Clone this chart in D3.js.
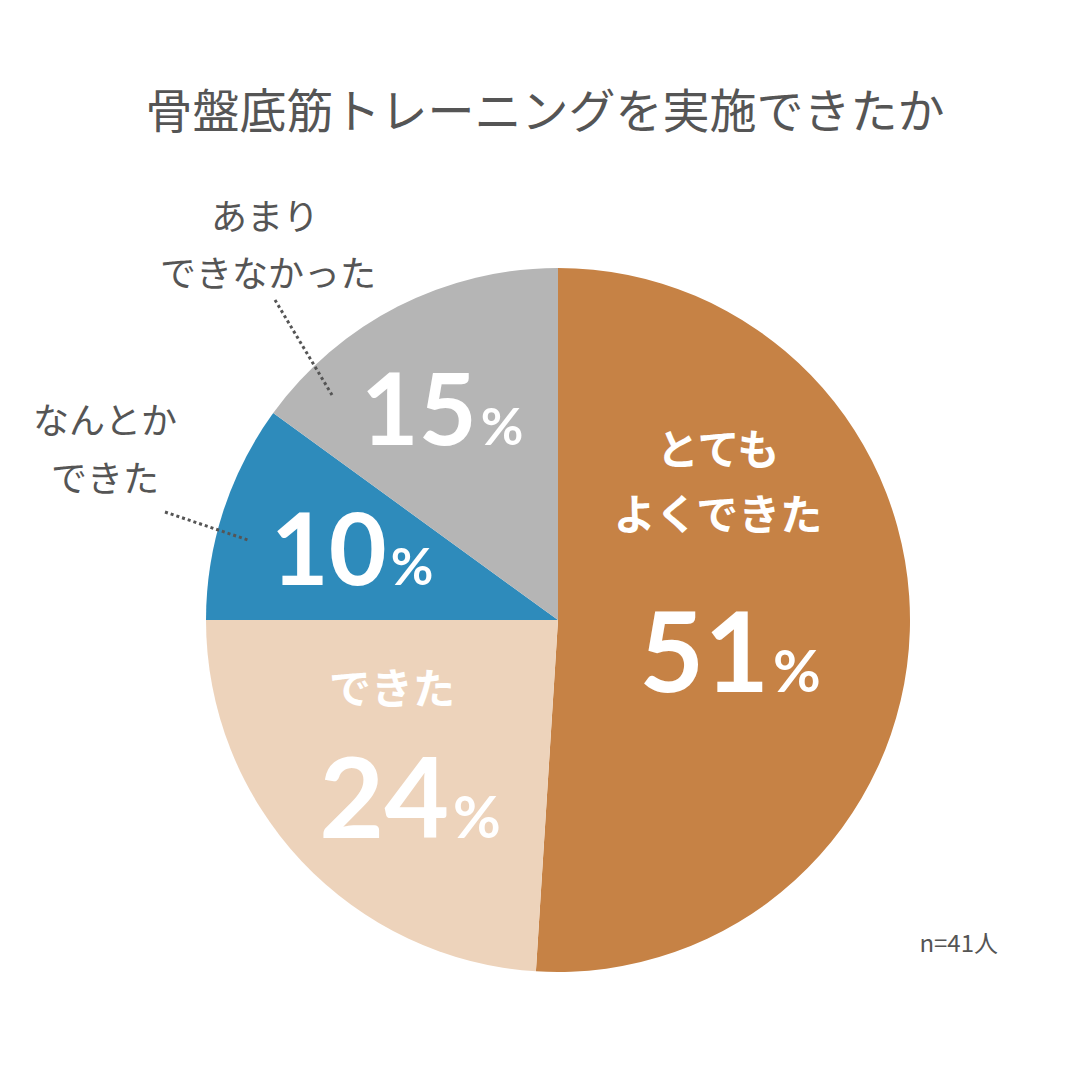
<!DOCTYPE html>
<html><head><meta charset="utf-8">
<script src="https://cdn.jsdelivr.net/npm/d3@7"></script>
<style>body{margin:0;background:#fff}svg{font-family:"Noto Sans CJK JP","Noto Sans",sans-serif}</style>
</head><body>
<svg id="chart" width="1080" height="1080"></svg>
<script>
// data
var categories = ["とてもよくできた", "できた", "なんとかできた", "あまりできなかった"];
var values = [51, 24, 10, 15];
var colors = ["#c68245", "#edd3bb", "#2e8bbb", "#b5b5b5"];

var svg = d3.select("#chart");
var cx = 558, cy = 620, r = 352;

svg.append("text").attr("x", 545).attr("y", 128).attr("text-anchor", "middle")
  .attr("font-size", 47).attr("fill", "#555").text("骨盤底筋トレーニングを実施できたか");

var pie = d3.pie().sort(null).value(function(d){ return d; });
var arc = d3.arc().innerRadius(0).outerRadius(r);
var g = svg.append("g").attr("transform", "translate(" + cx + "," + cy + ")");
g.selectAll("path").data(pie(values)).enter().append("path")
  .attr("d", arc).attr("fill", function(d, i){ return colors[i]; });

// label positions inside slices
var inside = [
  {x: 718, lines: ["とても", "よくできた"], ly: [465, 530], px: 730, py: 692, size: 112},
  {x: 392, lines: ["できた"], ly: [704], px: 410, py: 838, size: 112},
  {x: 0, lines: [], ly: [], px: 352, py: 585, size: 100},
  {x: 0, lines: [], ly: [], px: 442, py: 445, size: 100}
];
inside.forEach(function(p, i){
  p.lines.forEach(function(t, j){
    svg.append("text").attr("x", p.x).attr("y", p.ly[j]).attr("text-anchor", "middle")
      .attr("font-size", 42).attr("font-weight", 700).attr("fill", "#fff").text(t);
  });
  var t = svg.append("text").attr("x", p.px).attr("y", p.py).attr("text-anchor", "middle")
    .attr("font-weight", 700).attr("fill", "#fff").attr("font-family", "Lato, 'Noto Sans', sans-serif");
  t.append("tspan").attr("font-size", p.size).text(values[i]);
  t.append("tspan").attr("font-size", p.size * 0.52).attr("dx", 4).text("%");
});

// outside labels
var outside = [
  {lines: ["あまり", "できなかった"], x: [265, 268], y: [230, 287]},
  {lines: ["なんとか", "できた"], x: [105, 105], y: [434, 492]}
];
outside.forEach(function(o){
  o.lines.forEach(function(t, j){
    svg.append("text").attr("x", o.x[j]).attr("y", o.y[j]).attr("text-anchor", "middle")
      .attr("font-size", 36).attr("fill", "#555").text(t);
  });
});
var leaders = [[275, 300, 332, 395], [165, 512, 248, 540]];
leaders.forEach(function(l){
  svg.append("line").attr("x1", l[0]).attr("y1", l[1]).attr("x2", l[2]).attr("y2", l[3])
    .attr("stroke", "#555").attr("stroke-width", 3).attr("stroke-dasharray", "3,3");
});

svg.append("text").attr("x", 998).attr("y", 952).attr("text-anchor", "end")
  .attr("font-size", 24).attr("fill", "#555").text("n=41人");
</script>
</body></html>
